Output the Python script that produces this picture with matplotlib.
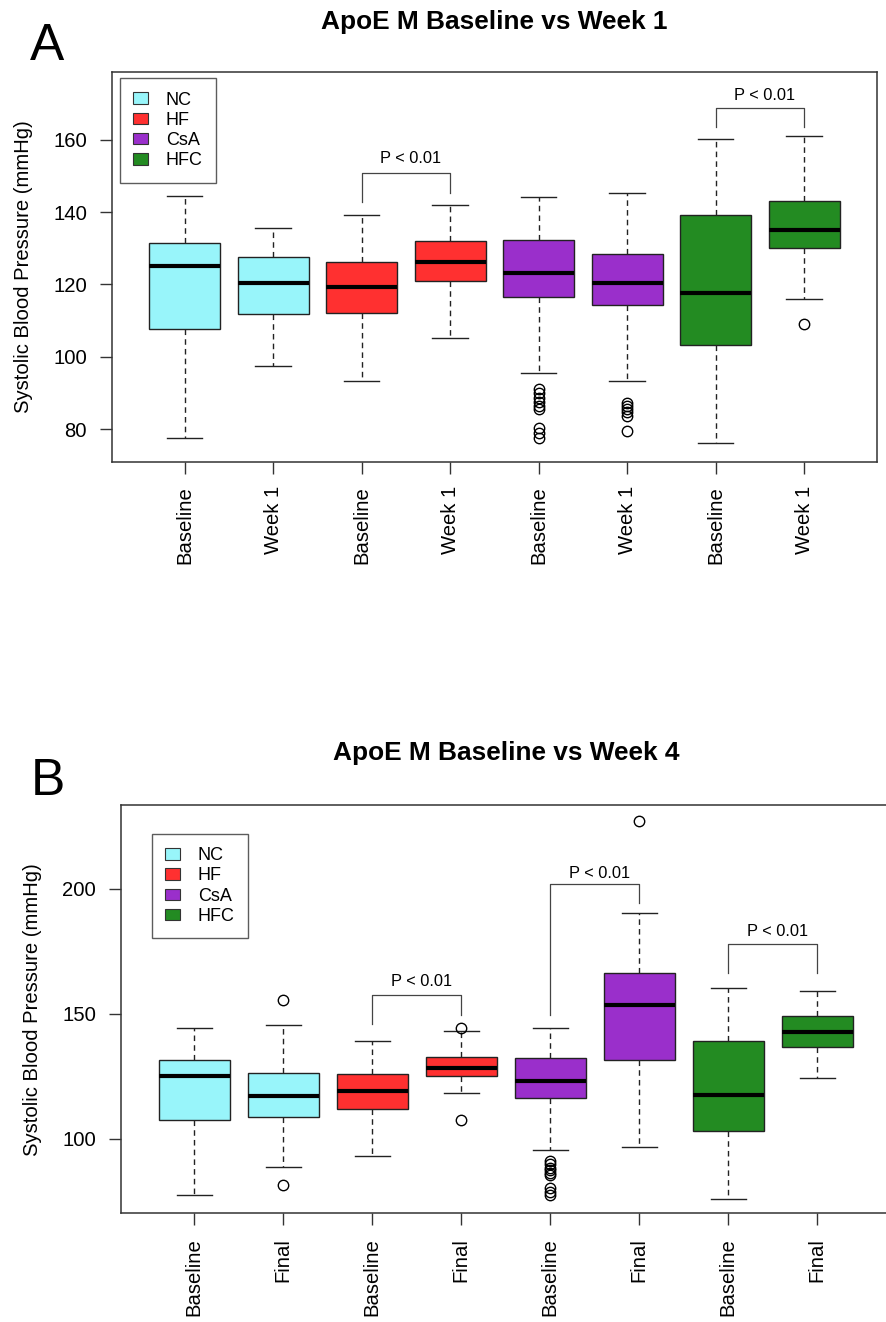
import matplotlib
matplotlib.use("Agg")
import matplotlib.pyplot as plt
from matplotlib.patches import Patch

plt.rcParams['font.family'] = ['Liberation Sans', 'DejaVu Sans']

groups = ["NC", "HF", "CsA", "HFC"]
colors = ["#98F5FA", "#FF3030", "#9A2FCB", "#238B22"]

# five-number summaries: whislo, q1, med, q3, whishi
base_nc = [77.6, 107.7, 125.1, 131.4, 144.5]
base_hf = [93.2, 112.1, 119.2, 126.1, 139.1]
base_csa = [95.4, 116.4, 123.3, 132.4, 144.3]
base_hfc = [76.2, 103.2, 117.6, 139.1, 160.2]
base_csa_out = [91.1, 90.0, 88.6, 87.5, 86.5, 85.5, 80.3, 79.0, 77.5]

wk1_nc = [97.5, 111.7, 120.5, 127.5, 135.5]
wk1_hf = [105.2, 121.1, 126.1, 132.1, 142.1]
wk1_csa = [93.4, 114.4, 120.3, 128.3, 145.3]
wk1_hfc = [116.1, 130.1, 135.1, 143.0, 161.1]
wk1_csa_out = [87.2, 86.3, 85.5, 84.7, 83.6, 79.4]
wk1_hfc_out = [109.1]

fin_nc = [88.7, 108.7, 117.1, 126.5, 145.6]
fin_hf = [118.3, 125.2, 128.3, 132.7, 143.2]
fin_csa = [96.6, 131.5, 153.6, 166.3, 190.4]
fin_hfc = [124.3, 136.8, 142.8, 149.2, 159.1]
fin_nc_out = [155.6, 81.5]
fin_hf_out = [144.5, 107.4]
fin_csa_out = [227.2]

labels_a = ["Baseline", "Week 1"] * 4
labels_b = ["Baseline", "Final"] * 4

# significance brackets: (left box, right box, bar y, left leg end, right leg end, text y)
brackets_a = [(3, 4, 150.7, 142.7, 145.3, 154.9),
              (7, 8, 168.9, 163.5, 163.5, 172.2)]
brackets_b = [(3, 4, 157.4, 145.8, 149.6, 162.9),
              (5, 6, 202.0, 149.6, 194.2, 206.1),
              (7, 8, 177.8, 166.2, 166.2, 182.7)]


def stat(s, fl=()):
    return dict(whislo=s[0], q1=s[1], med=s[2], q3=s[3], whishi=s[4], fliers=list(fl))


def panel(ax, stats, labels, brackets, ylim, yticks, leg_anchor):
    bp = ax.bxp(stats, positions=range(1, 9), widths=0.8, patch_artist=True,
                boxprops=dict(edgecolor="#222222", linewidth=1.0),
                medianprops=dict(color="black", linewidth=3.0, solid_capstyle="butt"),
                whiskerprops=dict(color="#222222", linewidth=1.0, linestyle=(0, (4, 3))),
                capprops=dict(color="#222222", linewidth=1.0),
                capwidths=0.4,
                flierprops=dict(marker="o", markersize=7.5, markerfacecolor="none",
                                markeredgecolor="black", markeredgewidth=1.0))
    for i, box in enumerate(bp["boxes"]):
        box.set_facecolor(colors[i // 2])
    for l, r, yb, yl, yr, yt in brackets:
        ax.plot([l, l, r, r], [yl, yb, yb, yr], color="#444444", lw=0.9)
        ax.text((l + r) / 2 + 0.05, yt, "P < 0.01", ha="center", va="center", fontsize=11.8)
    ax.set_xlim(0.18, 8.82)
    ax.set_ylim(*ylim)
    ax.set_yticks(yticks)
    ax.set_xticks(range(1, 9))
    ax.set_xticklabels(labels, rotation=90)
    ax.tick_params(axis="both", length=8.6, width=1.0, color="#333333", labelsize=14.6)
    ax.tick_params(axis="x", pad=9)
    ax.tick_params(axis="y", pad=9.5)
    for sp in ax.spines.values():
        sp.set_color("#333333")
        sp.set_linewidth(1.1)
    ax.set_ylabel("Systolic Blood Pressure (mmHg)", fontsize=14.6)
    handles = [Patch(facecolor=c, edgecolor="#333333", linewidth=0.8) for c in colors]
    leg = ax.legend(handles, groups, loc="upper left", bbox_to_anchor=leg_anchor,
                    borderaxespad=0, fontsize=13, frameon=True, fancybox=False,
                    handlelength=0.8, handleheight=0.6, labelspacing=0.18,
                    handletextpad=1.0, borderpad=0.75)
    leg.get_frame().set_edgecolor("#333333")
    leg.get_frame().set_linewidth(1.0)


fig = plt.figure(figsize=(8.87, 13.22), dpi=100)

ax1 = fig.add_axes([0.1263, 0.6508, 0.8621, 0.2951])
stats_a = [stat(base_nc), stat(wk1_nc), stat(base_hf), stat(wk1_hf),
           stat(base_csa, base_csa_out), stat(wk1_csa, wk1_csa_out),
           stat(base_hfc), stat(wk1_hfc, wk1_hfc_out)]
panel(ax1, stats_a, labels_a, brackets_a, (71.0, 178.9), [80, 100, 120, 140, 160], (0.0101, 0.9834))
ax1.yaxis.set_label_coords(-0.103, 0.5)

ax2 = fig.add_axes([0.1368, 0.0822, 0.8669, 0.3087])
stats_b = [stat(base_nc), stat(fin_nc, fin_nc_out), stat(base_hf), stat(fin_hf, fin_hf_out),
           stat(base_csa, base_csa_out), stat(fin_csa, fin_csa_out),
           stat(base_hfc), stat(fin_hfc)]
panel(ax2, stats_b, labels_b, brackets_b, (70.3, 233.3), [100, 150, 200], (0.0395, 0.9304))
ax2.yaxis.set_label_coords(-0.1035, 0.5)

fig.text(494.4 / 887, 1 - 22 / 1322, "ApoE M Baseline vs Week 1", ha="center", va="center",
         fontsize=18.9, fontweight="bold")
fig.text(505.8 / 887, 1 - 753.3 / 1322, "ApoE M Baseline vs Week 4", ha="center", va="center",
         fontsize=18.9, fontweight="bold")
fig.text(30 / 887, 1 - 60 / 1322, "A", ha="left", va="baseline", fontsize=37)
fig.text(31 / 887, 1 - 795 / 1322, "B", ha="left", va="baseline", fontsize=37)

fig.savefig("out.png", dpi=100)
